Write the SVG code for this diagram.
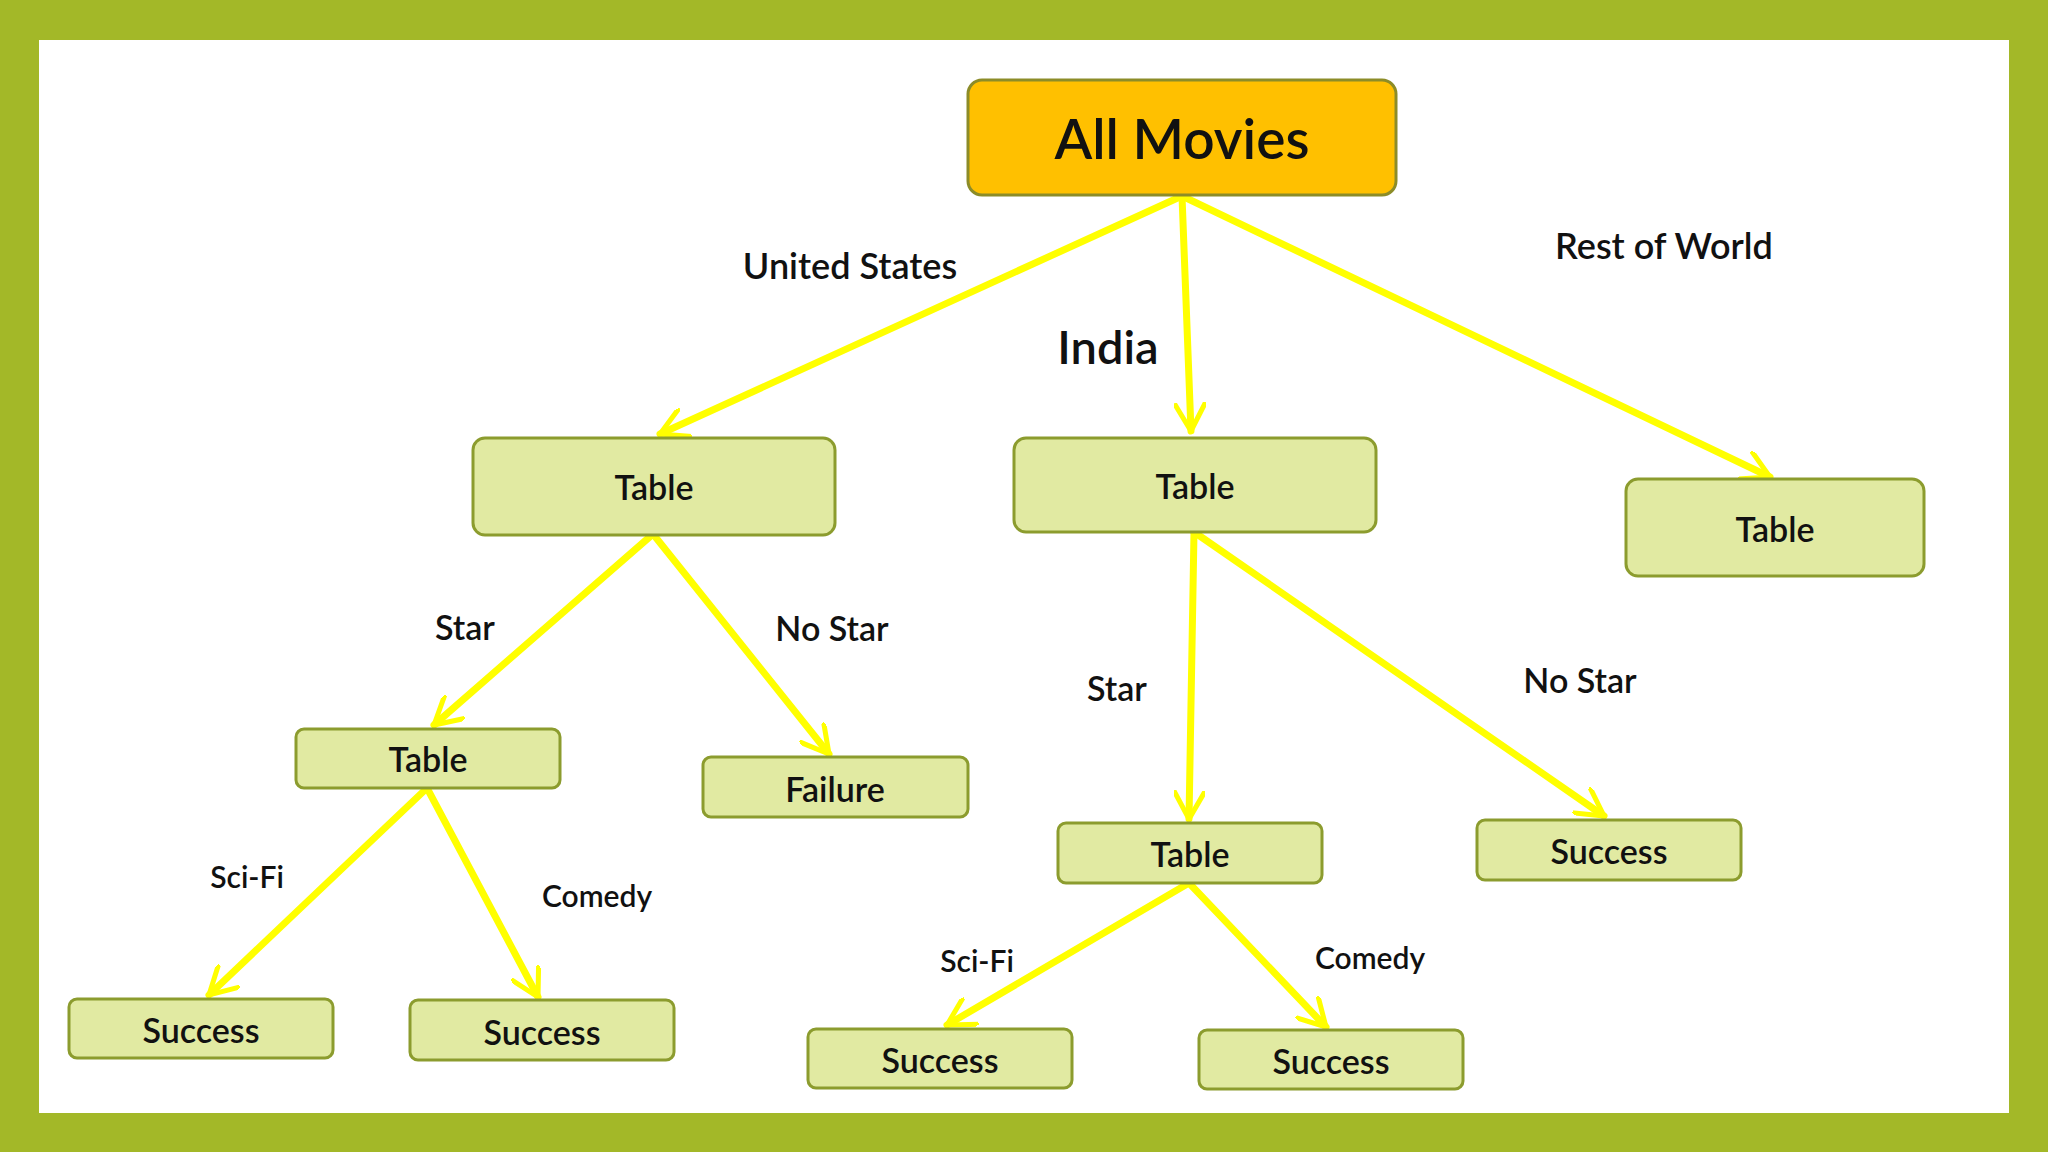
<svg xmlns="http://www.w3.org/2000/svg" width="2048" height="1152" viewBox="0 0 2048 1152">
<style>
.n{fill:#E1EAA2;stroke:#8C9C2E;stroke-width:3}
.r{fill:#FFC000;stroke:#8C8C28;stroke-width:3}
text{font-family:Lato,"Open Sans","Liberation Sans",sans-serif;fill:#111;text-anchor:middle;dominant-baseline:central}
.t{font-size:34px;font-weight:600}
.l{font-size:36px;font-weight:600}
.s{font-size:30px;font-weight:600}
.c line{stroke:#FFFF00;stroke-width:7;marker-end:url(#a);stroke-linecap:round}
</style>
<defs><marker id="a" viewBox="0 0 10 10" refX="9" refY="5" markerWidth="4.5" markerHeight="4.5" orient="auto"><path d="M0,0 L9,5 L0,10" fill="none" stroke="#FFFF00" stroke-width="1.6"/></marker></defs>
<rect x="0" y="0" width="2048" height="1152" fill="#A3B828"/>
<rect x="39" y="40" width="1970" height="1073" fill="#fff"/>
<g class="c">
<line x1="1182" y1="196" x2="660" y2="434"/>
<line x1="1182" y1="196" x2="1191" y2="431"/>
<line x1="1182" y1="196" x2="1770" y2="477"/>
<line x1="653" y1="534" x2="434" y2="725"/>
<line x1="653" y1="534" x2="829" y2="754"/>
<line x1="1194" y1="532" x2="1189" y2="819"/>
<line x1="1194" y1="532" x2="1604" y2="816"/>
<line x1="427" y1="788" x2="209" y2="995"/>
<line x1="427" y1="788" x2="538" y2="997"/>
<line x1="1189" y1="883" x2="947" y2="1025"/>
<line x1="1189" y1="883" x2="1326" y2="1027"/>
</g>
<g id="root"><rect class="r" x="968" y="80" width="428" height="115" rx="14"/><text x="1182" y="138" style="font-size:55px;font-weight:600">All Movies</text></g>
<g id="t1"><rect class="n" x="473" y="438" width="362" height="97" rx="12"/><text class="t" x="654" y="486">Table</text></g>
<g id="t2"><rect class="n" x="1014" y="438" width="362" height="94" rx="12"/><text class="t" x="1195" y="485">Table</text></g>
<g id="t3"><rect class="n" x="1626" y="479" width="298" height="97" rx="12"/><text class="t" x="1775" y="528">Table</text></g>
<g id="t4"><rect class="n" x="296" y="729" width="264" height="59" rx="8"/><text class="t" x="428" y="758">Table</text></g>
<g id="fail"><rect class="n" x="703" y="757" width="265" height="60" rx="8"/><text class="t" x="835" y="788">Failure</text></g>
<g id="t5"><rect class="n" x="1058" y="823" width="264" height="60" rx="8"/><text class="t" x="1190" y="853">Table</text></g>
<g id="s0"><rect class="n" x="1477" y="820" width="264" height="60" rx="8"/><text class="t" x="1609" y="850">Success</text></g>
<g id="s1"><rect class="n" x="69" y="999" width="264" height="59" rx="8"/><text class="t" x="201" y="1029">Success</text></g>
<g id="s2"><rect class="n" x="410" y="1000" width="264" height="60" rx="8"/><text class="t" x="542" y="1031">Success</text></g>
<g id="s3"><rect class="n" x="808" y="1029" width="264" height="59" rx="8"/><text class="t" x="940" y="1059">Success</text></g>
<g id="s4"><rect class="n" x="1199" y="1030" width="264" height="59" rx="8"/><text class="t" x="1331" y="1060">Success</text></g>
<g id="labels">
<text class="l" x="850" y="265">United States</text>
<text x="1108" y="346" style="font-size:47px;font-weight:600">India</text>
<text class="l" x="1664" y="245">Rest of World</text>
<text class="t" x="465" y="626">Star</text>
<text class="t" x="832" y="627">No Star</text>
<text class="t" x="1117" y="687">Star</text>
<text class="t" x="1580" y="679">No Star</text>
<text class="s" x="247" y="876">Sci-Fi</text>
<text class="s" x="597" y="895">Comedy</text>
<text class="s" x="977" y="960">Sci-Fi</text>
<text class="s" x="1370" y="957">Comedy</text>
</g>
</svg>
